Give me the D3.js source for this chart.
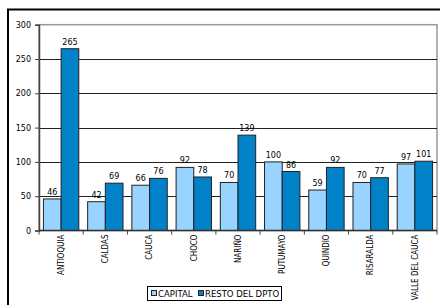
<!DOCTYPE html>
<html>
<head>
<meta charset="utf-8">
<script src="https://cdn.jsdelivr.net/npm/d3@7"></script>
<style>
  body { margin: 0; background: #fff; }
  svg text { font-family: "DejaVu Sans", Verdana, sans-serif; font-size: 8px; fill: #000; }
  .cat { font-family: "DejaVu Sans Condensed", "DejaVu Sans", sans-serif; }
  .leg { font-size: 8.5px; }
</style>
</head>
<body>
<svg id="chart" width="440" height="305"></svg>
<script>
var categories = ["ANTIOQUIA", "CALDAS", "CAUCA", "CHOCO", "NARIÑO", "PUTUMAYO", "QUINDIO", "RISARALDA", "VALLE DEL CAUCA"];
var capital = [46, 42, 66, 92, 70, 100, 59, 70, 97];
var restoDpto = [265, 69, 76, 78, 139, 86, 92, 77, 101];
var seriesNames = ["CAPITAL", "RESTO DEL DPTO"];
var yTicks = [0, 50, 100, 150, 200, 250, 300];
var colors = ["#99d3ff", "#0081c8"];

var svg = d3.select("#chart");
var plot = { left: 39, right: 437, top: 24.7, bottom: 230.5 };

// outer chart frame
svg.append("path")
  .attr("d", "M8,305 L8,9.5 L440,9.5")
  .attr("fill", "none")
  .attr("stroke", "#000")
  .attr("stroke-width", 2);

var x0 = d3.scaleBand().domain(categories).range([plot.left, plot.right]).padding(0);
var x1 = d3.scaleBand().domain(seriesNames).range([0, x0.bandwidth()]).paddingOuter(0.25).paddingInner(0);
var y = d3.scaleLinear().domain([0, 300]).range([plot.bottom, plot.top]);

// plot area border
svg.append("rect")
  .attr("x", plot.left).attr("y", plot.top)
  .attr("width", plot.right - plot.left).attr("height", plot.bottom - plot.top)
  .attr("fill", "#fff").attr("stroke", "#999").attr("stroke-width", 1.5);

// gridlines
svg.selectAll("line.grid")
  .data(yTicks.filter(function (d) { return d > 0 && d < 300; }))
  .enter()
  .append("line")
  .attr("class", "grid")
  .attr("x1", plot.left).attr("x2", plot.right)
  .attr("y1", function (d) { return Math.round(y(d)) + 0.5; })
  .attr("y2", function (d) { return Math.round(y(d)) + 0.5; })
  .attr("stroke", "#222");

// y axis
var yAxis = svg.append("g")
  .attr("transform", "translate(" + plot.left + ",0)")
  .call(d3.axisLeft(y).tickValues(yTicks).tickSize(4).tickPadding(4));
yAxis.select(".domain").attr("stroke", "#444").attr("stroke-width", 1.5);
yAxis.selectAll(".tick line").attr("stroke", "#444");
yAxis.selectAll(".tick text").style("font-size", "8px");

var data = categories.map(function (c, i) {
  return { cat: c, values: [capital[i], restoDpto[i]] };
});

var groups = svg.selectAll("g.cat-group")
  .data(data)
  .enter()
  .append("g")
  .attr("class", "cat-group")
  .attr("transform", function (d) { return "translate(" + x0(d.cat) + ",0)"; });

groups.selectAll("rect")
  .data(function (d) { return d.values.map(function (v, i) { return { name: seriesNames[i], v: v, i: i }; }); })
  .enter()
  .append("rect")
  .attr("x", function (d) { return x1(d.name); })
  .attr("y", function (d) { return y(d.v); })
  .attr("width", x1.bandwidth())
  .attr("height", function (d) { return y(0) - y(d.v); })
  .attr("fill", function (d) { return colors[d.i]; })
  .attr("stroke", "#222")
  .attr("stroke-width", 1);

groups.selectAll("text.val")
  .data(function (d) { return d.values.map(function (v, i) { return { name: seriesNames[i], v: v }; }); })
  .enter()
  .append("text")
  .attr("class", "val")
  .attr("x", function (d) { return x1(d.name) + x1.bandwidth() / 2; })
  .attr("y", function (d) { return y(d.v) - 4; })
  .attr("text-anchor", "middle")
  .text(function (d) { return d.v; });

// x axis
var xAxis = svg.append("g")
  .attr("transform", "translate(0," + plot.bottom + ")");
xAxis.append("line")
  .attr("x1", plot.left).attr("x2", plot.right)
  .attr("stroke", "#333").attr("stroke-width", 1.5);
xAxis.selectAll("line.tk")
  .data(categories.concat(["end"]))
  .enter()
  .append("line")
  .attr("class", "tk")
  .attr("x1", function (d, i) { return plot.left + i * x0.step(); })
  .attr("x2", function (d, i) { return plot.left + i * x0.step(); })
  .attr("y1", 0).attr("y2", 4)
  .attr("stroke", "#444");
xAxis.selectAll("text")
  .data(categories)
  .enter()
  .append("text")
  .attr("class", "cat")
  .attr("transform", function (d) {
    return "translate(" + (x0(d) + x0.bandwidth() / 2) + ",4) rotate(-90)";
  })
  .attr("text-anchor", "end")
  .attr("dy", "0.35em")
  .text(function (d) { return d; });

// legend
var legend = svg.append("g");
legend.append("rect")
  .attr("x", 147.5).attr("y", 286.5).attr("width", 134).attr("height", 14)
  .attr("fill", "#fff").attr("stroke", "#000");
var legendX = [151, 198];
seriesNames.forEach(function (name, i) {
  legend.append("rect")
    .attr("x", legendX[i] + 0.5).attr("y", 290.5).attr("width", 5).attr("height", 5)
    .attr("fill", colors[i]).attr("stroke", "#222");
  legend.append("text")
    .attr("class", "leg")
    .attr("x", legendX[i] + 7).attr("y", 296.5)
    .text(name);
});
</script>
</body>
</html>
